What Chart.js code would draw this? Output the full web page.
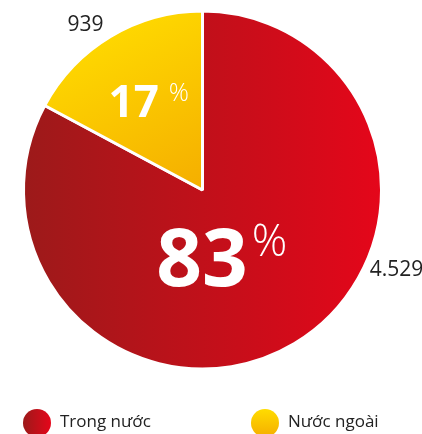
<!DOCTYPE html>
<html>
<head>
<meta charset="utf-8">
<script src="https://cdn.jsdelivr.net/npm/chart.js@4.4.1/dist/chart.umd.min.js"></script>
<style>
  html, body { margin: 0; padding: 0; background: #fff; }
  #wrap { width: 422px; height: 434px; }
</style>
</head>
<body>
<div id="wrap"><canvas id="pieChart" width="422" height="434"></canvas></div>
<script>
const categories = ['Trong nước', 'Nước ngoài'];
const values = [4529, 939];
const valueLabels = ['4.529', '939'];

const total = values.reduce((a, b) => a + b, 0);
const percents = values.map(v => Math.round(v / total * 100));

// label offsets, as fractions of the pie radius
const pctOffset = [[0.107, 0.534], [-0.30, -0.41]];
const pctSize = [[80, 44], [44, 25]];
const valOffset = [[1.084, 0.483], [-0.654, -0.888]];

const FONT = "'Open Sans', 'Noto Sans', sans-serif";

function redFill(c, x0, x1) {
  const g = c.createLinearGradient(x0, 0, x1, 0);
  g.addColorStop(0, '#9c1a1a');
  g.addColorStop(1, '#e5061a');
  return g;
}

function yellowFill(c, x0, y0, x1, y1) {
  const g = c.createLinearGradient(x0, y0, x1, y1);
  g.addColorStop(0, '#ffdc00');
  g.addColorStop(1, '#f5ae00');
  return g;
}

function sliceFill(context) {
  const chart = context.chart;
  const area = chart.chartArea;
  if (!area) return context.dataIndex === 0 ? '#c8141b' : '#ffcc00';
  if (context.dataIndex === 0) return redFill(chart.ctx, area.left, area.right);
  const cx = (area.left + area.right) / 2;
  const cy = (area.top + area.bottom) / 2;
  return yellowFill(chart.ctx, cx - 90, area.top, cx, cy);
}

const pieLabels = {
  id: 'pieLabels',
  afterDatasetsDraw(chart) {
    const ctx = chart.ctx;
    const meta = chart.getDatasetMeta(0);
    ctx.save();
    meta.data.forEach((arc, i) => {
      const p = arc.getProps(['x', 'y', 'outerRadius'], true);
      const r = p.outerRadius;

      // percentage inside the slice
      const big = pctSize[i][0], small = pctSize[i][1];
      ctx.font = 'bold ' + big + 'px ' + FONT;
      const numText = String(percents[i]);
      const wNum = ctx.measureText(numText).width;
      ctx.font = '300 ' + small + 'px ' + FONT;
      const wPct = ctx.measureText('%').width;
      const gap = i === 0 ? 4 : 10;
      const cxg = p.x + pctOffset[i][0] * r;
      const base = p.y + pctOffset[i][1] * r;
      const left = cxg - (wNum + gap + wPct) / 2;
      ctx.fillStyle = '#fff';
      ctx.textBaseline = 'alphabetic';
      ctx.textAlign = 'left';
      ctx.font = 'bold ' + big + 'px ' + FONT;
      ctx.fillText(numText, left, base);
      const digitH = big * 0.714;
      ctx.font = '300 ' + small + 'px ' + FONT;
      ctx.textBaseline = 'top';
      ctx.fillText('%', left + wNum + gap, base - digitH - small * 0.15);

      // value outside the pie
      ctx.font = '21px ' + FONT;
      ctx.fillStyle = '#222';
      ctx.textAlign = 'center';
      ctx.textBaseline = 'alphabetic';
      ctx.fillText(valueLabels[i], p.x + valOffset[i][0] * r, p.y + valOffset[i][1] * r);
    });
    ctx.restore();
  }
};

const customLegend = {
  id: 'customLegend',
  afterDraw(chart) {
    const ctx = chart.ctx;
    const items = [{ x: 37 }, { x: 265 }];
    const y = 423, rad = 14;
    ctx.save();
    items.forEach((it, i) => {
      ctx.beginPath();
      ctx.arc(it.x, y, rad, 0, Math.PI * 2);
      ctx.fillStyle = i === 0
        ? redFill(ctx, it.x - rad, it.x + rad)
        : yellowFill(ctx, it.x, y - rad, it.x, y + rad);
      ctx.fill();
      ctx.font = '17px ' + FONT;
      ctx.fillStyle = '#222';
      ctx.textAlign = 'left';
      ctx.textBaseline = 'alphabetic';
      ctx.fillText(categories[i], it.x + 23, 427);
    });
    ctx.restore();
  }
};

new Chart(document.getElementById('pieChart'), {
  type: 'pie',
  data: {
    labels: categories,
    datasets: [{
      data: values,
      backgroundColor: sliceFill,
      borderColor: '#fff',
      borderWidth: 3
    }]
  },
  options: {
    responsive: false,
    animation: false,
    rotation: 0,
    layout: { padding: { top: 9, bottom: 63, left: 22, right: 39 } },
    plugins: {
      legend: { display: false },
      tooltip: { enabled: false }
    }
  },
  plugins: [pieLabels, customLegend]
});
</script>
</body>
</html>
